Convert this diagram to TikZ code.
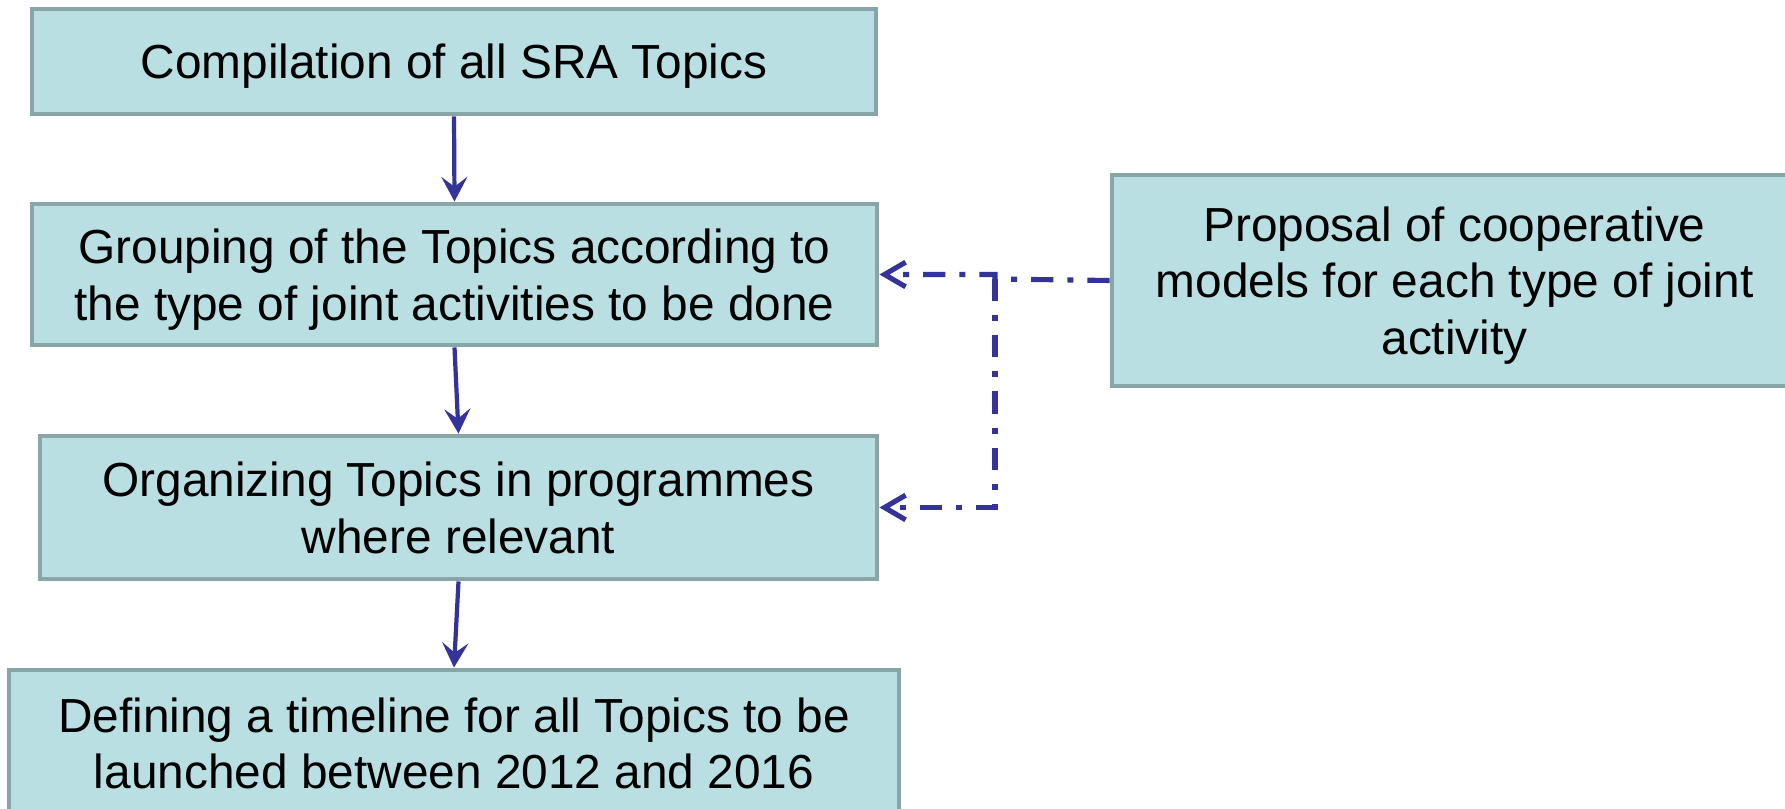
\documentclass[tikz,border=0pt]{standalone}
\usepackage{fontspec}
\setmainfont{Liberation Sans}
\usepackage{tikz}
\usetikzlibrary{arrows.meta}

\definecolor{boxfill}{HTML}{BADFE2}
\definecolor{boxline}{HTML}{88A5A7}
\definecolor{flowblue}{HTML}{333399}

\begin{document}
\begin{tikzpicture}[
		box/.style={draw=boxline, fill=boxfill, line width=1.4pt, align=center, inner sep=0pt,
			text depth=0pt, font=\fontsize{13.6pt}{16.1pt}\selectfont},
		flow/.style={-{Stealth[length=7pt, width=7.4pt, inset=2.8pt]}, flowblue, line width=1.2pt},
		link/.style={-{Straight Barb[length=6pt, width=7pt]}, flowblue, line width=1.45pt,
			dash pattern=on 6.3pt off 4pt on 1.7pt off 4pt}]
	% page size
	\useasboundingbox (0,0) rectangle (17.85,-8.09);
	
	% ---------- main steps (left column) ----------
	\node[box, minimum width=8.44cm, minimum height=1.05cm] (compile) at (4.54,-0.615)
		{Compilation of all SRA Topics};
	\node[box, minimum width=8.45cm, minimum height=1.41cm] (group) at (4.545,-2.745)
		{Grouping of the Topics according to\\the type of joint activities to be done};
	\node[box, minimum width=8.37cm, minimum height=1.43cm] (organize) at (4.585,-5.075)
		{Organizing Topics in programmes\\where relevant};
	\node[box, minimum width=8.90cm, minimum height=1.46cm] (timeline) at (4.54,-7.43)
		{Defining a timeline for all Topics to be\\launched between 2012 and 2016};
	
	% ---------- proposal (right) ----------
	\node[box, minimum width=6.85cm, minimum height=2.11cm] (proposal) at (14.545,-2.805)
		{Proposal of cooperative\\models for each type of joint\\activity};
	
	% flow arrows
	\draw[flow] (compile.south) -- (group.north);
	\draw[flow] (group.south) -- (organize.north);
	\draw[flow] (organize.south) -- (timeline.north);
	
	% dash-dot feedback from the proposal
	\coordinate (split) at (9.95,-2.79);
	\draw[link] (proposal.west) -- (split) |- (group.east);
	\draw[link] (split) |- (organize.east);
\end{tikzpicture}
\end{document}
